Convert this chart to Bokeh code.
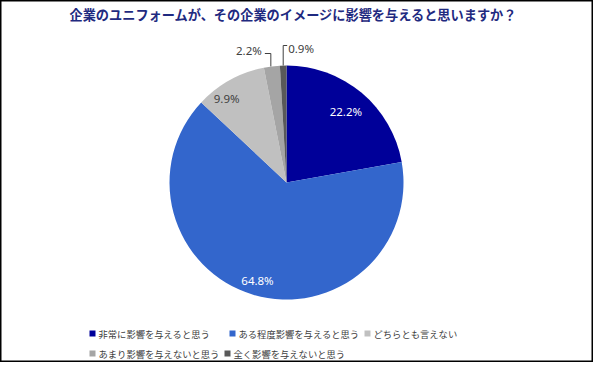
import math
from bokeh.plotting import figure
from bokeh.models import ColumnDataSource, Range1d
from bokeh.core.properties import value
from bokeh.embed import file_html
from bokeh.resources import INLINE

# ---------------- data ----------------
title = "企業のユニフォームが、その企業のイメージに影響を与えると思いますか？"
categories = ["非常に影響を与えると思う", "ある程度影響を与えると思う", "どちらとも言えない",
              "あまり影響を与えないと思う", "全く影響を与えないと思う"]
shares = [22.2, 64.8, 9.9, 2.2, 0.9]

# ---------------- style / layout ----------------
colors = ["#000099", "#3366CC", "#C0C0C0", "#A5A5A5", "#595959"]
label_colors = ["white", "white", "#404040", "#404040", "#404040"]
W, H = 593, 362          # figure size (page has 8px margin)
OFF = 8                  # page offset


def px(X):               # reference page x -> data x
    return X - OFF


def py(Y):               # reference page y -> data y
    return H + OFF - Y


CX, CY, R = px(294), py(190), 117
JP = "Noto Sans CJK JP"
LAT = "Noto Sans"

p = figure(width=W, height=H, output_backend="svg", toolbar_location=None,
           x_range=Range1d(0, W), y_range=Range1d(0, H), min_border=0)
p.axis.visible = False
p.grid.visible = False
p.outline_line_color = "#000000"
p.outline_line_width = 2
p.background_fill_color = "white"
p.border_fill_color = "white"

# ---------------- pie ----------------
total = sum(shares)
starts, ends, mids = [], [], []
cum = 0.0
for v in shares:
    a0 = math.pi / 2 - 2 * math.pi * cum / total
    cum += v
    a1 = math.pi / 2 - 2 * math.pi * cum / total
    starts.append(a0)
    ends.append(a1)
    mids.append((a0 + a1) / 2)

src = ColumnDataSource(dict(start=starts, end=ends, color=colors, cat=categories))
p.wedge(x=CX, y=CY, radius=R, start_angle="start", end_angle="end",
        direction="clock", fill_color="color", line_color=None, source=src)

# ---------------- data labels ----------------
labels = [f"{v:.1f}%" for v in shares]
inner_r = [0.79, 0.87, 0.88]
inner_adj = [(0, 0), (0, 0), (-10, -6)]
for i in range(3):
    lx = CX + inner_r[i] * R * math.cos(mids[i]) + inner_adj[i][0]
    ly = CY + inner_r[i] * R * math.sin(mids[i]) + inner_adj[i][1]
    p.text(x=[lx], y=[ly], text=[labels[i]], text_color=label_colors[i],
           text_font=value(LAT), text_font_size="11.5px",
           text_align="center", text_baseline="middle")

# outside labels with leader lines
ex3 = CX + R * math.cos(mids[3]) - 1
ey3 = CY + R * math.sin(mids[3])
top3 = py(61)
p.line(x=[ex3, ex3, ex3 - 6], y=[ey3, top3, top3], line_color="#404040", line_width=1)
p.text(x=[ex3 - 9], y=[top3 + 3], text=[labels[3]], text_color=label_colors[3],
       text_font=value(LAT), text_font_size="11.5px",
       text_align="right", text_baseline="middle")

ex4 = CX + R * math.cos(mids[4])
ey4 = CY + R * math.sin(mids[4])
top4 = py(53)
p.line(x=[ex4, ex4, ex4 + 4], y=[ey4, top4, top4], line_color="#404040", line_width=1)
p.text(x=[ex4 + 5], y=[top4 - 3], text=[labels[4]], text_color=label_colors[4],
       text_font=value(LAT), text_font_size="11.5px",
       text_align="left", text_baseline="middle")

# ---------------- title ----------------
p.text(x=[px(301)], y=[py(22)], text=[title], text_color="#1F2A80",
       text_font=value(JP), text_font_size="13.2px", text_font_style="bold",
       text_align="center", text_baseline="middle")

# ---------------- legend ----------------
leg_pos = [(97, 341), (237, 341), (372, 341), (97, 361), (232, 361)]
for (X, Y), c, lab in zip(leg_pos, colors, categories):
    p.rect(x=[px(X) + 3], y=[py(Y)], width=6, height=6, fill_color=c, line_color=None)
    p.text(x=[px(X) + 9], y=[py(Y)], text=[lab], text_color="#404040",
           text_font=value(JP), text_font_size="9.3px",
           text_align="left", text_baseline="middle")

open("out.html", "w").write(file_html(p, INLINE))
